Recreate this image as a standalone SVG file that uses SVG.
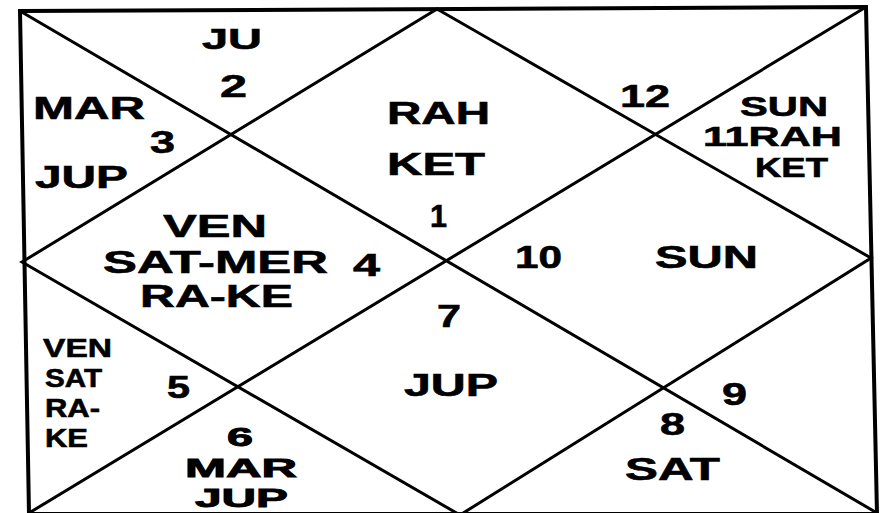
<svg xmlns="http://www.w3.org/2000/svg" width="891" height="513" viewBox="0 0 891 513">
<style>
.ln{fill:none;stroke:#000;stroke-linejoin:miter;stroke-linecap:square}
.fr{stroke-width:4}
.dg{stroke-width:3}
text{font-family:"Liberation Sans",Arial,sans-serif;font-weight:bold;fill:#000;stroke:#000;stroke-width:0.6;font-size:31px}
.s{font-size:26px}
.m{font-size:27px}
.t{font-size:26px;stroke-width:0.9}
</style>
<rect width="891" height="513" fill="#fff"/>
<g id="connectors">
<polygon class="ln fr" points="20,11 866,7 877,514 29,514"/>
<line class="ln dg" x1="20" y1="11" x2="877" y2="513"/>
<line class="ln dg" x1="866" y1="7" x2="29" y2="513"/>
<polygon class="ln dg" points="437,9 871,258 460,515 22,262"/>
</g>
<g id="house1">
<text x="387" y="124" textLength="103" lengthAdjust="spacingAndGlyphs">RAH</text>
<text x="387" y="175" textLength="98" lengthAdjust="spacingAndGlyphs">KET</text>
<text x="430" y="227" textLength="17" lengthAdjust="spacingAndGlyphs">1</text>
</g>
<g id="house2">
<text x="202" y="49" textLength="60" lengthAdjust="spacingAndGlyphs" style="font-size:29px">JU</text>
<text x="220" y="97" textLength="27" lengthAdjust="spacingAndGlyphs">2</text>
</g>
<g id="house3">
<text x="33" y="119" textLength="112" lengthAdjust="spacingAndGlyphs">MAR</text>
<text x="150" y="153" textLength="25" lengthAdjust="spacingAndGlyphs">3</text>
<text x="35" y="188" textLength="93" lengthAdjust="spacingAndGlyphs">JUP</text>
</g>
<g id="house4">
<text x="163" y="237" textLength="104" lengthAdjust="spacingAndGlyphs">VEN</text>
<text x="103" y="273" textLength="225" lengthAdjust="spacingAndGlyphs">SAT-MER</text>
<text x="353" y="276" textLength="27" lengthAdjust="spacingAndGlyphs">4</text>
<text x="140" y="307" textLength="153" lengthAdjust="spacingAndGlyphs">RA-KE</text>
</g>
<g id="house5">
<text class="s" x="43" y="357" textLength="69" lengthAdjust="spacingAndGlyphs">VEN</text>
<text class="s" x="45" y="387" textLength="57" lengthAdjust="spacingAndGlyphs">SAT</text>
<text class="s" x="45" y="417" textLength="55" lengthAdjust="spacingAndGlyphs">RA-</text>
<text class="s" x="45" y="447" textLength="43" lengthAdjust="spacingAndGlyphs">KE</text>
<text x="167" y="398" textLength="23" lengthAdjust="spacingAndGlyphs">5</text>
</g>
<g id="house6">
<text class="t" x="227" y="446" textLength="26" lengthAdjust="spacingAndGlyphs">6</text>
<text class="t" x="185" y="477" textLength="112" lengthAdjust="spacingAndGlyphs">MAR</text>
<text class="t" x="195" y="507" textLength="93" lengthAdjust="spacingAndGlyphs">JUP</text>
</g>
<g id="house7">
<text x="437" y="327" textLength="24" lengthAdjust="spacingAndGlyphs">7</text>
<text x="404" y="396" textLength="94" lengthAdjust="spacingAndGlyphs">JUP</text>
</g>
<g id="house8">
<text x="660" y="435" textLength="25" lengthAdjust="spacingAndGlyphs">8</text>
<text x="625" y="480" textLength="95" lengthAdjust="spacingAndGlyphs">SAT</text>
</g>
<g id="house9">
<text x="722" y="405" textLength="25" lengthAdjust="spacingAndGlyphs">9</text>
</g>
<g id="house10">
<text x="515" y="268" textLength="47" lengthAdjust="spacingAndGlyphs">10</text>
<text x="655" y="268" textLength="103" lengthAdjust="spacingAndGlyphs">SUN</text>
</g>
<g id="house11">
<text class="m" x="740" y="116" textLength="88" lengthAdjust="spacingAndGlyphs">SUN</text>
<text class="m" x="703" y="146" textLength="139" lengthAdjust="spacingAndGlyphs">11RAH</text>
<text class="m" x="755" y="177" textLength="73" lengthAdjust="spacingAndGlyphs">KET</text>
</g>
<g id="house12">
<text x="620" y="107" textLength="50" lengthAdjust="spacingAndGlyphs">12</text>
</g>
</svg>
